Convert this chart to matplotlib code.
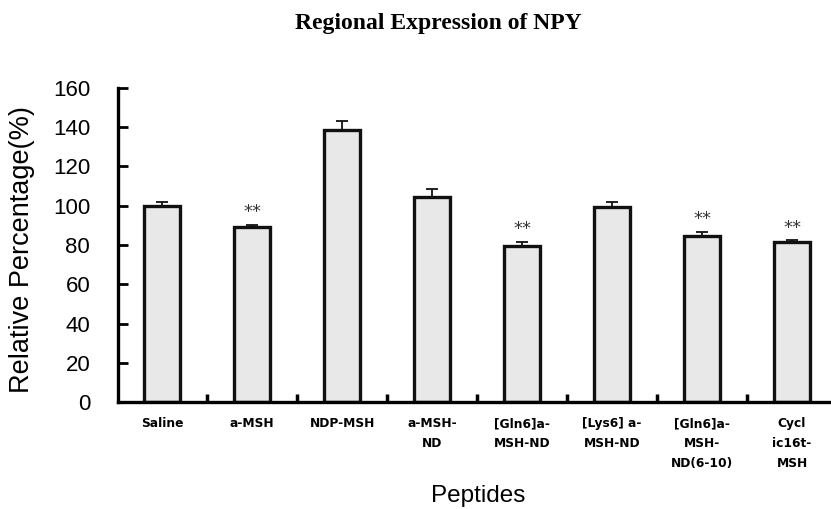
import matplotlib
matplotlib.use("Agg")
import matplotlib.pyplot as plt
import numpy as np

categories = ["Saline", "a-MSH", "NDP-MSH", "a-MSH-\nND", "[Gln6]a-\nMSH-ND",
              "[Lys6] a-\nMSH-ND", "[Gln6]a-\nMSH-\nND(6-10)", "Cycl\nic16t-\nMSH"]
values = [100.0, 89.0, 138.6, 104.5, 79.7, 99.4, 84.7, 81.4]
errors = [1.8, 1.0, 4.5, 3.8, 1.8, 2.6, 1.9, 0.9]
significant = [False, True, False, False, True, False, True, True]

fig = plt.figure(figsize=(8.31, 5.09), dpi=100)
ax = fig.add_axes([118/831, 107/509, (837-118)/831, (402-88)/509])

x = np.arange(len(categories))
ax.bar(x, values, width=0.4, color="#e8e8e8", edgecolor="#111111", linewidth=2.4, zorder=2)
ax.errorbar(x, values, yerr=[np.zeros(len(errors)), errors], fmt="none",
            ecolor="#111111", elinewidth=1.3, capsize=4.3, capthick=1.3, zorder=1)

for xi, v, e, s in zip(x, values, errors, significant):
    if s:
        ax.text(xi, v + e + 2.0, "**", ha="center", va="bottom", fontsize=13,
                family="DejaVu Sans", color="#333333")

ax.set_ylim(0, 160)
ax.set_xlim(-0.49, 7.5)
ax.set_yticks(np.arange(0, 161, 20))
ax.tick_params(axis="y", direction="in", length=7, width=2, labelsize=16, pad=20)
for lab in ax.get_yticklabels():
    lab.set_family("Liberation Sans")

ax.set_xticks(x)
ax.set_xticklabels(categories, fontsize=8.8, fontweight="bold", family="DejaVu Sans",
                   linespacing=1.7, va="top")
ax.tick_params(axis="x", which="major", length=0, pad=11)
ax.set_xticks(x[:-1] + 0.5, minor=True)
ax.tick_params(axis="x", which="minor", direction="in", length=6, width=2.5)

for s in ["top", "right"]:
    ax.spines[s].set_visible(False)
ax.spines["left"].set_linewidth(2.4)
ax.spines["bottom"].set_linewidth(2.4)

fig.text(22/831, 1 - 250/509, "Relative Percentage(%)", fontsize=19.5, family="Liberation Sans",
         rotation=90, ha="center", va="center")
fig.text(478/831, 1 - 496/509, "Peptides", fontsize=17.5, family="Liberation Sans",
         ha="center", va="center")
fig.text(438/831, 1 - 24/509, "Regional Expression of NPY", fontsize=17,
         fontweight="bold", family="Liberation Serif", ha="center", va="center")

fig.savefig("out.png", dpi=100)
